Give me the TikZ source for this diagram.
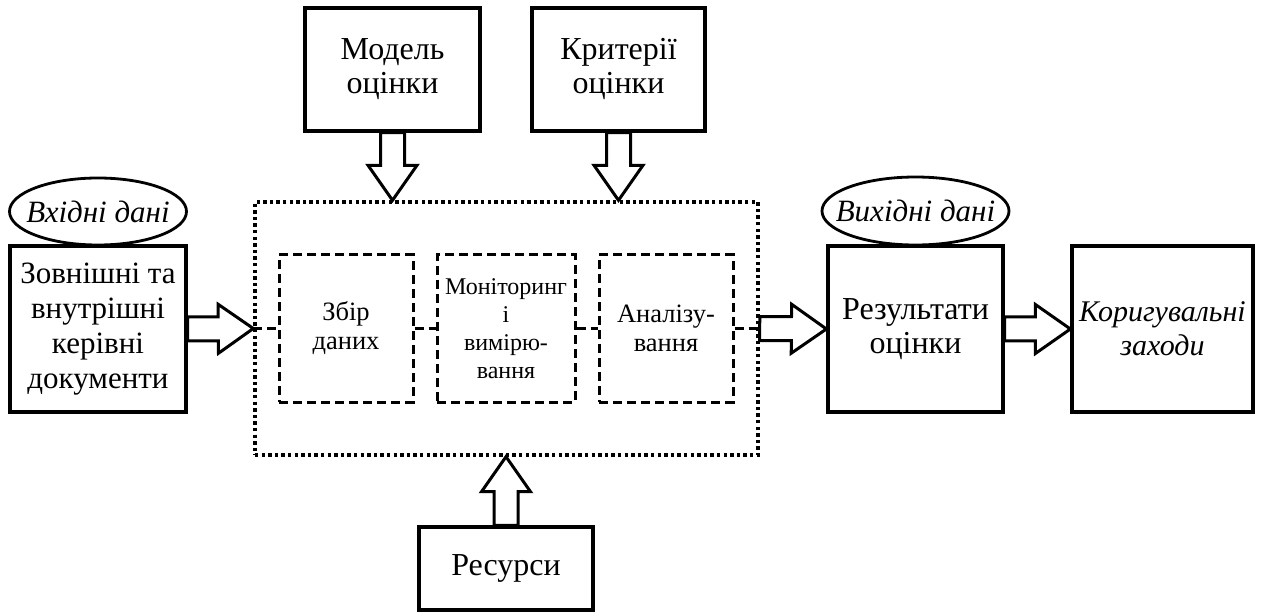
\documentclass[tikz,border=0pt]{standalone}
\usepackage{fontspec}
\setmainfont{Liberation Serif}
\usetikzlibrary{calc,positioning,shapes.geometric}

\tikzset{
  box/.style={draw, line width=3.2pt, inner sep=0pt, align=center, font=\fontsize{32}{34}\selectfont},
  stage/.style={draw, line width=3pt, dash pattern=on 9pt off 5pt, inner sep=0pt, align=center,
    minimum width=134pt, minimum height=147pt, font=\fontsize{26.5}{29}\selectfont},
  frame/.style={draw, line width=3.4pt, dash pattern=on 3.4pt off 3.2pt, inner sep=0pt},
  tag/.style={draw, ellipse, line width=2.8pt, inner xsep=-20pt, inner ysep=-6pt, font=\itshape\fontsize{31}{34}\selectfont},
  link/.style={line width=3pt, dash pattern=on 9pt off 5pt},
  fatarrow/.style={line width=3pt, to path={
    ($(\tikztotarget)!35pt!(\tikztostart)$) coordinate (fathead)
    ($(\tikztostart)!12pt!90:(\tikztotarget)$)
    -- ($(fathead)!12pt!90:(\tikztotarget)$)
    -- ($(fathead)!24.5pt!90:(\tikztotarget)$)
    -- (\tikztotarget)
    -- ($(fathead)!24.5pt!-90:(\tikztotarget)$)
    -- ($(fathead)!12pt!-90:(\tikztotarget)$)
    -- ($(\tikztostart)!12pt!-90:(\tikztotarget)$)
    -- cycle}}
}

\begin{document}
\begin{tikzpicture}[x=1pt, y=-1pt]
    \useasboundingbox (0,0) rectangle (1264,612);

    % Evaluation frame with its stages
    \node[frame, minimum width=503pt, minimum height=253pt] (frame) at (506.5,328.5) {};
    \node[stage] (collect) at (346,328.5) {Збір\\даних};
    \node[stage, minimum width=138pt, font=\fontsize{24}{28}\selectfont] (monitor) at (506,328.5) {Моніторинг\\і\\вимірю-\\вання};
    \node[stage] (analyse) at (666,328.5) {Аналізу-\\вання};

    % Input side
    \node[box, minimum width=176pt, minimum height=166pt, font=\fontsize{31}{35}\selectfont] (docs) at (98,329) {Зовнішні та\\внутрішні\\керівні\\документи};
    \node[tag, minimum width=177pt, minimum height=67pt, above=-2pt of docs] (indata) {Вхідні дані};

    % Model, criteria and resources
    \node[box, minimum width=175pt, minimum height=123pt] (model) at (392.5,69.5) {Модель\\оцінки};
    \node[box, minimum width=173pt, minimum height=123pt] (criteria) at (618.5,69.5) {Критерії\\оцінки};
    \node[box, minimum width=174pt, minimum height=83pt] (resources) at (506,568.5) {Ресурси};

    % Output side
    \node[box, minimum width=175pt, minimum height=166pt] (results) at (915.5,329) {Результати\\оцінки};
    \node[tag, minimum width=187pt, minimum height=68pt, above=-2pt of results] (outdata) {Вихідні дані};
    \node[box, minimum width=181pt, minimum height=166pt, font=\itshape\fontsize{30}{34}\selectfont] (actions) at (1162.5,329) {Коригувальні\\заходи};

    % Dashed links between stages
    \draw[link] (frame.west) -- (collect.west);
    \draw[link] (collect.east) -- (monitor.west);
    \draw[link] (monitor.east) -- (analyse.west);
    \draw[link] (analyse.east) -- (frame.east);

    % Block arrows
    \coordinate (modeltip) at (model.south |- frame.north);
    \coordinate (criteriatip) at (criteria.south |- frame.north);
    \coordinate (resourcestip) at (resources.north |- frame.south);
    \draw[fatarrow] (docs.east) to (frame.west);
    \draw[fatarrow] (frame.east) to (results.west);
    \draw[fatarrow] (results.east) to (actions.west);
    \draw[fatarrow] (model.south) to (modeltip);
    \draw[fatarrow] (criteria.south) to (criteriatip);
    \draw[fatarrow] (resources.north) to (resourcestip);
\end{tikzpicture}
\end{document}
